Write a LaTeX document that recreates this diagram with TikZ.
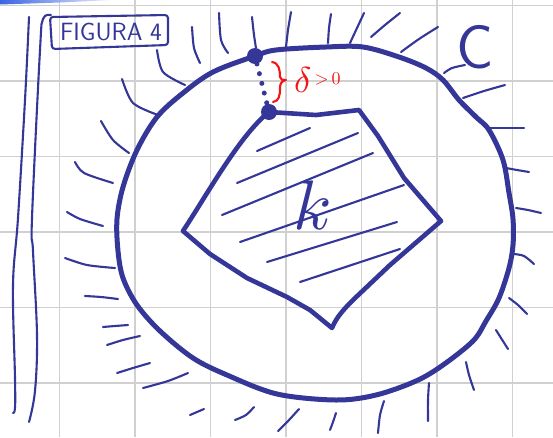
\documentclass[tikz,border=0pt]{standalone}
\usepackage{fontspec}
\usepackage{graphicx}
\definecolor{ink}{RGB}{52,54,152}
\definecolor{gridc}{RGB}{208,208,208}
\definecolor{redink}{RGB}{245,20,20}
\definecolor{topblue}{RGB}{60,100,225}
\tikzset{
  gridline/.style={gridc, line width=1.6pt},
  thinink/.style={ink, line width=2.1pt, line cap=round, line join=round},
  thickink/.style={ink, line width=5pt, line cap=round, line join=round},
  kpoly/.style={ink, line width=4.6pt, line cap=round, line join=round},
  blob/.style={circle, fill=ink, inner sep=0pt, minimum size=16pt},
  gapline/.style={ink, line width=5pt, line cap=round, dash pattern=on 0pt off 10pt},
  redpen/.style={redink, line width=2.1pt, line cap=round, line join=round},
}
\begin{document}
\begin{tikzpicture}[x=1pt,y=-1pt]
\useasboundingbox (0,0) rectangle (553,437);
\fill[white] (0,0) rectangle (553,437);
% grid paper
\foreach \gx in {59.5,135,210.5,286,361.5,437,512.5} \draw[gridline] (\gx,0) -- (\gx,437);
\foreach \gy in {5.5,81,156.5,232,307.5,383} \draw[gridline] (0,\gy) -- (553,\gy);
% blue swipe at top
\shade[left color=topblue, right color=topblue!10] (0,0) -- (112,0) -- (60,2.5) -- (0,4.5) -- cycle;
% margin lines
\draw[thinink] plot[smooth, tension=0.6] coordinates {(29,17) (25,100) (18,218) (13,285) (15,378) (15,408) (13,413)};
\draw[thinink] plot[smooth, tension=0.6] coordinates {(51,15) (43,19) (40,50) (32,218) (33,251) (37,335) (35,391) (29,422)};
% title box
\draw[thinink, rounded corners=3pt] (50,17) -- (168,15) -- (168,45) -- (52,49) -- cycle;
\node[ink, inner sep=0pt] (title) at (111,32) {\fontsize{25}{25}\selectfont\sffamily FIGURA 4};
% circle C
\draw[thickink] plot[smooth cycle, tension=0.55] coordinates {
 (255,56) (213,72) (183,93) (157,117) (137,150) (123,187) (117,219) (118,251)
 (123,278) (137,305) (160,331) (193,358) (227,375) (277,394) (336,400) (376,395)
 (416,381) (443,365) (473,341) (486,321) (499,298) (509,268) (513,245) (513,219)
 (509,193) (503,160) (489,130) (476,117) (459,100) (443,80) (426,68) (399,57)
 (363,47) (326,47) (276,50)};
% hatching inside K
\draw[thinink] (257,151) -- (310,128);
\draw[thinink] (237,183) -- (358,133);
\draw[thinink] (222,215) -- (373,153);
\draw[thinink] (240,242) -- (404,185);
\draw[thinink] (267,262) -- (397,222);
\draw[thinink] (300,282) -- (400,249);
% set K
\draw[kpoly] (269,112) -- (316,115) -- (359,110) -- (378,136) -- (404,178) -- (441,221)
  -- (390,265) -- (353,300) .. controls (343,310) and (336,318) .. (332,328)
  -- (310,310) -- (287,297) -- (247,278) -- (210,254) -- (183,231)
  .. controls (208,193) and (240,135) .. cycle;
% points and gap
\node[blob] (ptop) at (255,56) {};
\node[blob] (pbot) at (269,112) {};
\draw[gapline] (ptop) -- (pbot);
% outer hatching
\foreach \p in {
 {(192,27) (194,48) (200,63)},
 {(219,13) (221,40) (228,53)},
 {(252,17) (254,35) (256,48)},
 {(157,50) (163,72) (185,85)},
 {(122,79) (133,103) (158,115)},
 {(101,121) (113,140) (129,153)},
 {(75,162) (84,173) (113,183)},
 {(67,212) (80,219) (103,226)},
 {(65,258) (87,265) (115,268)},
 {(85,296) (101,297) (118,299)},
 {(103,327) (115,326) (128,325)},
 {(107,345) (123,340) (140,336)},
 {(117,373) (133,368) (150,363)},
 {(143,388) (168,381) (188,373)},
 {(190,415) (197,412) (204,409)},
 {(235,420) (246,415) (254,407)},
 {(278,431) (289,420) (299,409)},
 {(330,430) (333,422) (336,413)},
 {(378,433) (380,415) (384,401)},
 {(428,421) (428,400) (429,383)},
 {(474,390) (469,375) (466,362)},
 {(508,349) (501,338) (496,330)},
 {(527,314) (518,305) (509,298)},
 {(534,264) (524,256) (514,254)},
 {(541,213) (528,210) (516,208)},
 {(529,172) (517,170) (506,168)},
 {(524,128) (506,128) (489,128)},
 {(505,85) (484,91) (463,98)},
 {(444,73) (452,68) (465,65)},
 {(438,27) (419,39) (401,52)},
 {(400,13) (385,25) (371,37)},
 {(364,13) (357,28) (350,43)},
 {(331,14) (329,28) (328,43)},
 {(291,12) (288,30) (286,47)}}
 \draw[thinink] plot[smooth] coordinates \p;
% brace and delta
\draw[redpen] (272,62) .. controls (279,63) and (280,70) .. (280,77)
  .. controls (280,80) and (283,80) .. (286,80)
  .. controls (282,81) and (280,83) .. (280,88)
  .. controls (280,96) and (279,101) .. (273,102);
\node[redink, anchor=base west, inner sep=0pt] (delta) at (294,92)
  {\scalebox{3.6}{$\delta$}\raisebox{8pt}{\scalebox{1.8}{$\,{>}\,0$}}};
% labels
\node[ink, anchor=base, inner sep=0pt] (klab) at (313,229) {\scalebox{7}{$k$}};
\node[ink, inner sep=0pt] (clab) at (475,47.5) {\fontsize{62}{62}\selectfont\sffamily C};
\end{tikzpicture}
\end{document}
